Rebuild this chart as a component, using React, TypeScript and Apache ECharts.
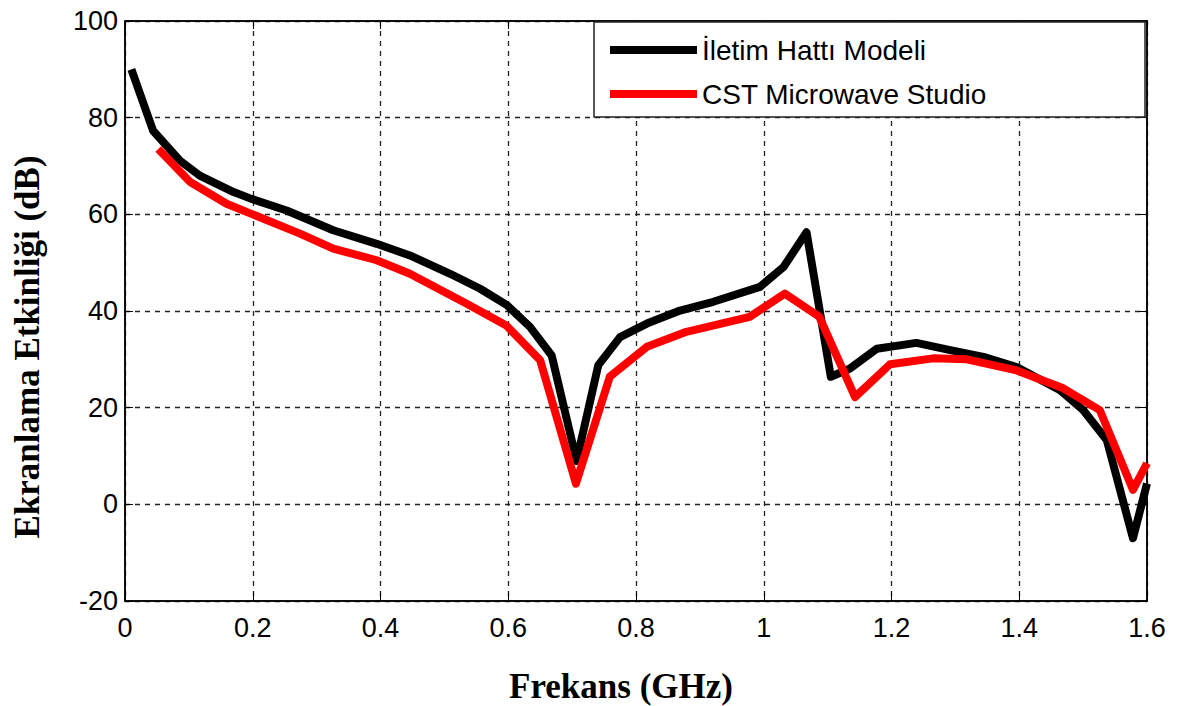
import React, { useEffect, useRef } from "react";
import * as echarts from "echarts";

const seriesNames = ["İletim Hattı Modeli", "CST Microwave Studio"];

const iletimData: [number, number][] = [
  [0.01, 90], [0.044, 77.3], [0.086, 71.1], [0.117, 68.0], [0.17, 64.6], [0.198, 63.2],
  [0.253, 60.8], [0.326, 56.7], [0.394, 53.9], [0.446, 51.5], [0.509, 47.7], [0.556, 44.6],
  [0.598, 41.2], [0.634, 36.7], [0.668, 30.8], [0.707, 9.0], [0.741, 28.8], [0.775, 34.6],
  [0.817, 37.4], [0.869, 40.1], [0.921, 41.9], [0.994, 45.0], [1.031, 49.1], [1.067, 56.3],
  [1.105, 26.4], [1.135, 28.1], [1.177, 32.2], [1.239, 33.4], [1.292, 31.9], [1.344, 30.5],
  [1.396, 28.4], [1.464, 23.6], [1.5, 19.5], [1.537, 13.3], [1.578, -7.0], [1.6, 4.3],
];

const cstData: [number, number][] = [
  [0.052, 73.5], [0.102, 66.7], [0.159, 62.2], [0.198, 60.1], [0.274, 56.0], [0.326, 52.9],
  [0.394, 50.5], [0.446, 47.7], [0.535, 41.5], [0.597, 37.0], [0.65, 29.8], [0.706, 4.3],
  [0.759, 26.4], [0.817, 32.6], [0.879, 35.7], [0.978, 38.8], [1.033, 43.6], [1.087, 38.8],
  [1.143, 22.2], [1.198, 29.0], [1.265, 30.2], [1.318, 30.0], [1.396, 27.7], [1.469, 24.0],
  [1.526, 19.5], [1.578, 3.0], [1.6, 8.5],
];

const xMin = 0, xMax = 1.6, xInterval = 0.2;
const yMin = -20, yMax = 100, yInterval = 20;

export default function App() {
  const ref = useRef<HTMLDivElement>(null);
  useEffect(() => {
    if (!ref.current) return;
    const chart = echarts.init(ref.current, null, { renderer: "svg" });
    const tickFont = { fontFamily: "Liberation Sans, Arial, sans-serif", fontSize: 27, color: "#000" };
    const split = { show: true, lineStyle: { color: "#222", type: [5, 5] as any, width: 1.3 } };
    const axisLine = { show: true, onZero: false, lineStyle: { color: "#000", width: 1.5 } };
    const tick = { show: true, inside: true, length: 8, lineStyle: { color: "#000" } };
    chart.setOption({
      animation: false,
      backgroundColor: "#fff",
      grid: { left: 125, right: 32, top: 21, bottom: 105, show: true, borderColor: "#000", borderWidth: 1.5, backgroundColor: "transparent" },
      graphic: [
        { type: "rect", z: 3, shape: { x: 594, y: 22, width: 551, height: 95 }, style: { fill: "#fff", stroke: "#222", lineWidth: 1.5 } },
        { type: "text", z: 3, x: 27, y: 347, rotation: Math.PI / 2, style: { text: "Ekranlama Etkinliği (dB)", font: "bold 35px 'Liberation Serif', 'Times New Roman', serif", fill: "#000", align: "center", verticalAlign: "middle" } },
        { type: "text", z: 3, x: 621, y: 686, style: { text: "Frekans (GHz)", font: "bold 35px 'Liberation Serif', 'Times New Roman', serif", fill: "#000", align: "center", verticalAlign: "middle" } },
      ],
      legend: {
        orient: "vertical",
        left: 594,
        top: 22,
        padding: [12, 16, 12, 16],
        itemGap: 12,
        itemWidth: 87,
        itemHeight: 8,
        icon: "rect",
        z: 10,
        textStyle: { fontFamily: "Liberation Sans, Arial, sans-serif", fontSize: 28, color: "#000", lineHeight: 32 },
        data: seriesNames,
      },
      xAxis: [
        {
          type: "value", min: xMin, max: xMax, interval: xInterval,
          axisLine, axisTick: tick,
          axisLabel: { ...tickFont, margin: 13 },
          splitLine: split,
        },
        {
          type: "value", position: "top", min: xMin, max: xMax, interval: xInterval,
          axisLine, axisTick: tick,
          axisLabel: { show: false }, splitLine: { show: false },
        },
      ],
      yAxis: [
        {
          type: "value", min: yMin, max: yMax, interval: yInterval,
          axisLine, axisTick: tick,
          axisLabel: { ...tickFont, margin: 7 },
          splitLine: split,
        },
        {
          type: "value", position: "right", min: yMin, max: yMax, interval: yInterval,
          axisLine, axisTick: tick,
          axisLabel: { show: false }, splitLine: { show: false },
        },
      ],
      series: [
        {
          name: seriesNames[0], type: "line", data: iletimData, showSymbol: false, symbol: "none",
          lineStyle: { color: "#000", width: 8, join: "round" }, itemStyle: { color: "#000" }, z: 3,
        },
        {
          name: seriesNames[1], type: "line", data: cstData, showSymbol: false, symbol: "none",
          lineStyle: { color: "#ff0000", width: 8, join: "round" }, itemStyle: { color: "#ff0000" }, z: 4,
        },
      ],
    });
    return () => chart.dispose();
  }, []);
  return <div ref={ref} style={{ position: "fixed", left: 0, top: 0, width: 1179, height: 706 }} />;
}
